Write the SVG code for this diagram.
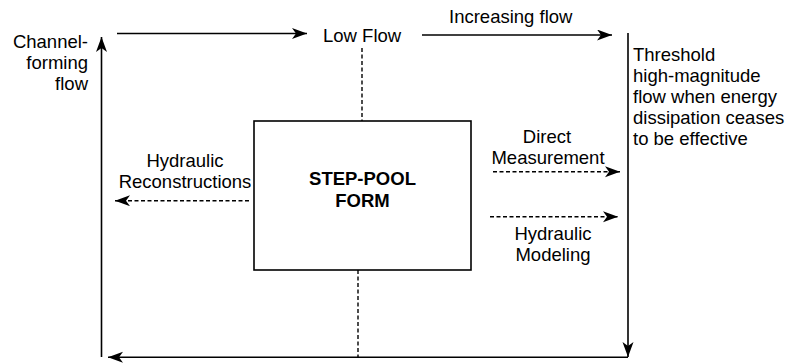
<svg xmlns="http://www.w3.org/2000/svg" width="790" height="364" viewBox="0 0 790 364">
<style>
text{font-family:"Liberation Sans",Arial,sans-serif;font-size:18.5px;fill:#000}
.b{font-weight:bold}
.s{fill:none;stroke:#000;stroke-width:1.6}
.d{fill:none;stroke:#000;stroke-width:1.4;stroke-dasharray:4 2.5}
</style>
<defs>
<marker id="ah" markerUnits="userSpaceOnUse" markerWidth="16" markerHeight="12" refX="15" refY="5.5" orient="auto">
<path d="M0,0 L15,5.5 L0,11 L4,5.5 Z" fill="#000"/>
</marker>
</defs>
<rect width="790" height="364" fill="#fff"/>
<g id="connectors">
<path class="s" d="M117,33.5 H307" marker-end="url(#ah)"/>
<path class="s" d="M422,35 H612" marker-end="url(#ah)"/>
<path class="s" d="M628,33 V357" marker-end="url(#ah)"/>
<path class="s" d="M628,357.3 H108" marker-end="url(#ah)"/>
<path class="s" d="M101.5,357 V37" marker-end="url(#ah)"/>
<path class="d" d="M362,48 V121"/>
<path class="d" d="M358,270 V357"/>
<path class="d" d="M249,200.7 H115" marker-end="url(#ah)"/>
<path class="d" d="M493,171.7 H620" marker-end="url(#ah)"/>
<path class="d" d="M490,216.7 H618" marker-end="url(#ah)"/>
</g>
<g id="step-pool">
<rect class="s" x="254" y="121" width="217" height="149"/>
<text class="b" x="362.5" y="185" text-anchor="middle">STEP-POOL</text>
<text class="b" x="362.5" y="207" text-anchor="middle">FORM</text>
</g>
<g id="channel-forming">
<text text-anchor="end" x="88"><tspan x="88" y="48">Channel-</tspan><tspan x="88" y="69">forming</tspan><tspan x="88" y="90">flow</tspan></text>
</g>
<g id="low-flow"><text x="323" y="42">Low Flow</text></g>
<g id="increasing-flow"><text x="449" y="23">Increasing flow</text></g>
<g id="threshold">
<text x="633"><tspan x="633" y="61">Threshold</tspan><tspan x="633" y="82">high-magnitude</tspan><tspan x="633" y="103">flow when energy</tspan><tspan x="633" y="124">dissipation ceases</tspan><tspan x="633" y="145">to be effective</tspan></text>
</g>
<g id="hydraulic-reconstructions">
<text text-anchor="middle"><tspan x="185" y="167">Hydraulic</tspan><tspan x="185" y="188">Reconstructions</tspan></text>
</g>
<g id="direct-measurement">
<text text-anchor="middle"><tspan x="547" y="143">Direct</tspan><tspan x="548" y="164">Measurement</tspan></text>
</g>
<g id="hydraulic-modeling">
<text text-anchor="middle"><tspan x="553" y="240">Hydraulic</tspan><tspan x="553" y="261">Modeling</tspan></text>
</g>
</svg>
